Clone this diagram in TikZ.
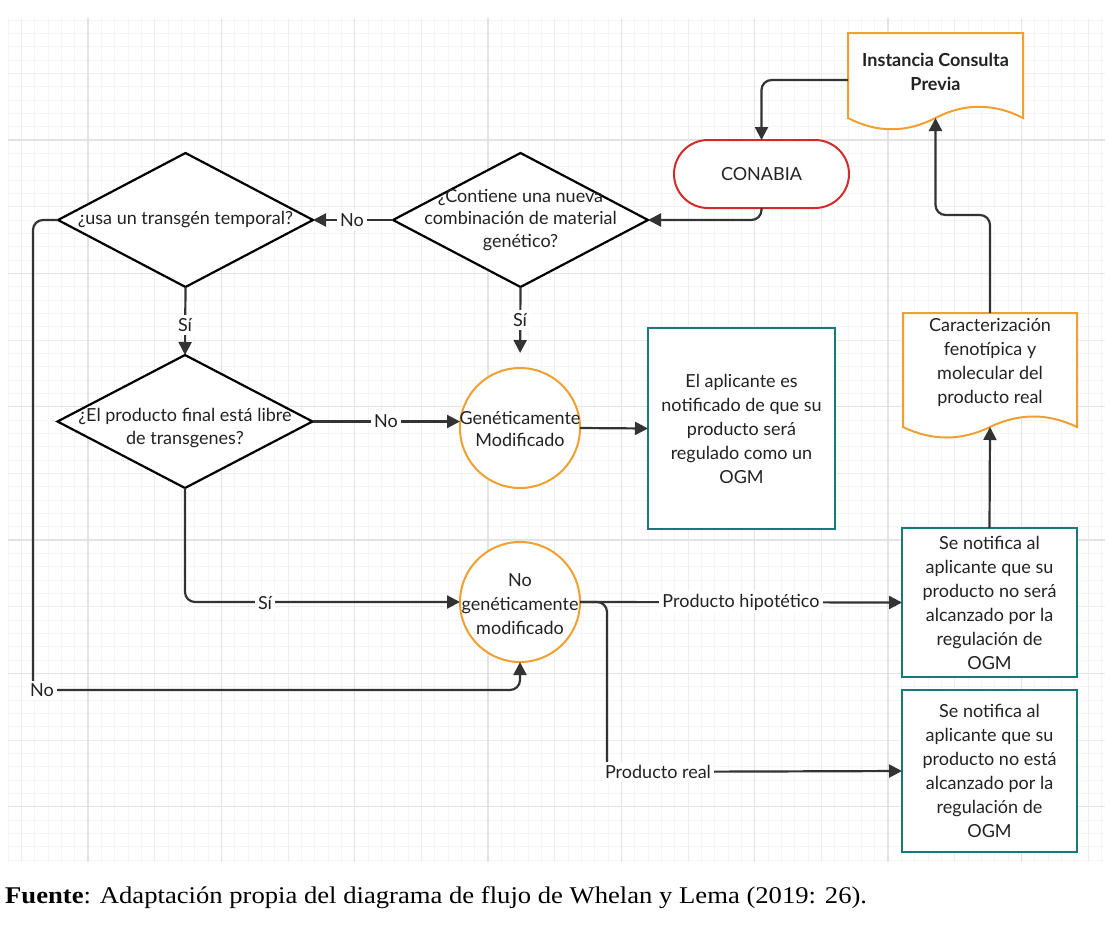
\documentclass[tikz,border=0pt]{standalone}
\usepackage{fontspec}
\setmainfont{Lato}
\newfontfamily\capfont{Liberation Serif}
\usetikzlibrary{arrows.meta,shapes.geometric,calc}
\definecolor{lineg}{HTML}{333333}
\definecolor{orng}{HTML}{F0A030}
\definecolor{redc}{HTML}{D42A2A}
\definecolor{tealc}{HTML}{167A7A}
\definecolor{gridmin}{HTML}{F5F5F5}
\definecolor{gridmid}{HTML}{EDEDED}
\definecolor{gridmaj}{HTML}{E3E3E3}
\definecolor{txt}{HTML}{222222}
\tikzset{
  base/.style={font=\fontsize{18}{24}\selectfont, align=center, text=txt, inner sep=0pt},
  dia/.style={diamond, draw=black, line width=2.2pt, fill=white, inner sep=0pt, outer sep=0pt},
  circ/.style={circle, draw=orng, line width=2pt, fill=white, minimum size=120pt, inner sep=0pt, outer sep=0pt},
  tbox/.style={rectangle, draw=tealc, line width=2.5pt, fill=white, inner sep=0pt, outer sep=0pt},
  docst/.style={draw=orng, line width=2pt, fill=white},
  conn/.style={draw=lineg, line width=2.2pt, rounded corners=10pt, -{Triangle[length=13pt,width=13pt]}},
  lab/.style={base, fill=white, inner sep=3pt}
}
\begin{document}
\begin{tikzpicture}[x=1pt,y=-1pt]
\useasboundingbox (0,0) rectangle (1115,924);
\fill[white] (0,0) rectangle (1115,924);
% grid
\foreach \i in {0,...,82} \draw[gridmin, line width=1pt] ({8+13.3333*\i},18) -- ({8+13.3333*\i},862);
\foreach \j in {0,...,63} \draw[gridmin, line width=1pt] (8,{20+13.3333*\j}) -- (1105,{20+13.3333*\j});
\foreach \i in {1,6,...,81} \draw[gridmid, line width=1pt] ({8+13.3333*\i},18) -- ({8+13.3333*\i},862);
\foreach \j in {4,9,...,59} \draw[gridmid, line width=1pt] (8,{20+13.3333*\j}) -- (1105,{20+13.3333*\j});
\foreach \i in {6,16,...,76} \draw[gridmaj, line width=1.2pt] ({8+13.3333*\i},18) -- ({8+13.3333*\i},862);
\foreach \j in {9,19,...,59} \draw[gridmaj, line width=1.2pt] (8,{20+13.3333*\j}) -- (1105,{20+13.3333*\j});

% documents
\draw[docst] (848,33) -- (1023,33) -- (1023,118) .. controls (994,103) and (964,103) .. (935.5,118) .. controls (906,133) and (877,133) .. (848,118) -- cycle;
\node[base, font=\fontsize{18}{24}\selectfont\bfseries] (icp) at (935.5,72) {Instancia Consulta\\Previa};
\coordinate (icpw) at (848,80);
\coordinate (icpb) at (935.5,118);

\draw[docst] (903,313) -- (1077,313) -- (1077,427) .. controls (1048,413) and (1019,413) .. (990,427) .. controls (961,441) and (932,441) .. (903,427) -- cycle;
\node[base] (car) at (990,362) {Caracterización\\fenotípica y\\molecular del\\producto real};
\coordinate (cart) at (990,313);
\coordinate (carb) at (990,427);

% CONABIA
\node[rectangle, rounded corners=34pt, draw=redc, line width=2pt, fill=white, minimum width=175pt, minimum height=68pt, inner sep=0pt, outer sep=0pt] (con) at (761.5,174) {};
\node[base] at (con) {CONABIA};

% diamonds
\node[dia, minimum width=255pt, minimum height=134pt] (d1) at (185.5,220) {};
\node[base] at (d1) {¿usa un transgén temporal?};
\node[dia, minimum width=255pt, minimum height=134pt] (d2) at (520.5,220) {};
\node[base, font=\fontsize{18}{22.5}\selectfont] at (d2) {¿Contiene una nueva\\combinación de material\\genético?};
\node[dia, minimum width=255pt, minimum height=133pt] (d3) at (185,421.5) {};
\node[base, font=\fontsize{18}{22.5}\selectfont] at (185,428) {¿El producto final está libre\\de transgenes?};

% circles
\node[circ] (gm) at (520,428) {};
\node[base, font=\fontsize{18}{22}\selectfont] at (520,429) {Genéticamente\\Modificado};
\node[circ] (ngm) at (520,602) {};
\node[base, font=\fontsize{18}{24}\selectfont] at (520,604) {No\\genéticamente\\modificado};

% teal boxes
\node[tbox, minimum width=187pt, minimum height=201pt] (b1) at (741.5,428.5) {};
\node[base] at (b1) {El aplicante es\\notificado de que su\\producto será\\regulado como un\\OGM};
\node[tbox, minimum width=175pt, minimum height=149pt] (b2) at (989.5,602.5) {};
\node[base] at (b2) {Se notifica al\\aplicante que su\\producto no será\\alcanzado por la\\regulación de\\OGM};
\node[tbox, minimum width=175pt, minimum height=162pt] (b3) at (989.5,771) {};
\node[base] at (b3) {Se notifica al\\aplicante que su\\producto no está\\alcanzado por la\\regulación de\\OGM};

% connectors
\draw[conn] (icpw) -| (con.north);
\draw[conn] (con.south) |- (d2.east);
\draw[conn] (d2.west) -- (d1.east);
\node[lab] (l1) at (352,220) {No};
\draw[conn] (d1.south) -- (d3.north);
\node[lab] (l2) at (185,325) {Sí};
\draw[conn, shorten >=15pt] (d2.south) -- (gm.north);
\node[lab] (l3) at (520,320) {Sí};
\draw[conn] (d3.east) -- (d3.east -| gm.west);
\node[lab] (l4) at (386,421) {No};
\draw[conn] (gm.east) -- (b1.west);
\draw[conn] (d3.south) |- (ngm.west);
\node[lab] (l5) at (265,603) {Sí};
\coordinate (lc1) at (33,690);
\draw[conn] (d1.west) -| (lc1) -| (ngm.south);
\node[lab] (l6) at (42,690) {No};
\draw[conn] (ngm.east) -- (b2.west);
\node[lab] (l7) at (741,602) {Producto hipotético};
\coordinate (pr) at (607,772);
\draw[conn] (ngm.east) -| (pr) -- (b3.west);
\node[lab] (l8) at (658,772) {Producto real};
\draw[conn] (b2.north) -- (carb);
\coordinate (k1) at (990,215);
\draw[conn] (cart) -- (k1) -| (icpb);

% caption
\node[anchor=west, inner sep=0pt, font=\capfont\fontsize{24}{28}\selectfont] (cap) at (5,898) {\scalebox{1.11}[1]{\textbf{Fuente}: Adaptación propia del diagrama de flujo de Whelan y Lema (2019: 26).}};
\end{tikzpicture}
\end{document}
